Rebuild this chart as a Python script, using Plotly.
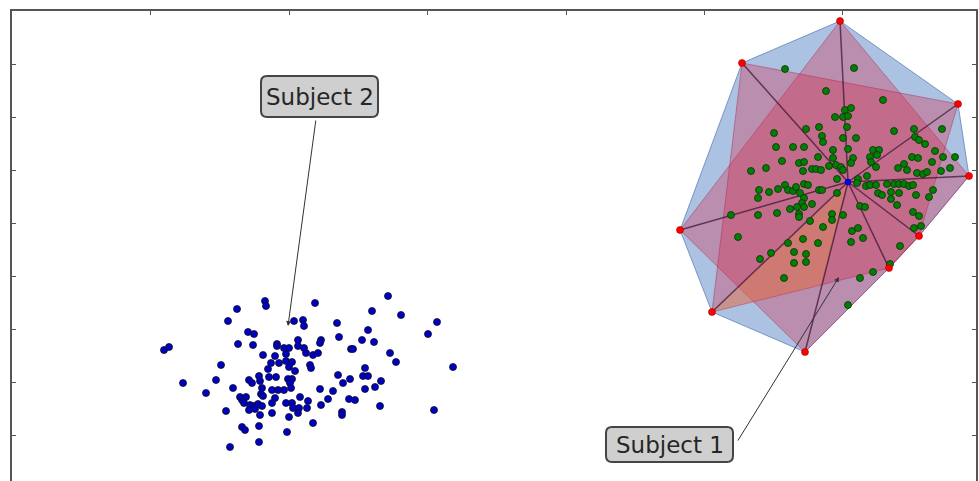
import plotly.graph_objects as go

# ---------------- data (axis units; no tick labels in the original) ----------------
# Subject 2 : scattered blue points
s2_x = [265, 266, 315, 388, 237, 372, 401, 228, 294, 303, 304, 337, 437, 428, 248, 254,
        368, 339, 362, 374, 238, 253, 277, 277, 298, 298, 284, 289, 321, 320, 304, 306,
        313, 318, 351, 353, 164, 169, 263, 275, 286, 390, 396, 221, 271, 268, 279, 286,
        292, 289, 310, 311, 295, 365, 453, 338, 363, 368, 350, 259, 269, 276, 216, 183,
        249, 252, 260, 288, 292, 290, 343, 381, 375, 365, 233, 206, 262, 272, 278, 284,
        291, 320, 333, 240, 246, 242, 244, 261, 263, 275, 272, 300, 286, 292, 293, 299,
        308, 328, 349, 355, 250, 254, 258, 255, 249, 262, 307, 321, 380, 226, 260, 272,
        289, 298, 342, 342, 434, 313, 242, 245, 259, 287, 259, 230]
s2_y = [301, 306, 303, 296, 309, 311, 315, 321, 321, 320, 326, 323, 322, 334, 332, 334,
        330, 337, 340, 342, 344, 345, 344, 346, 340, 346, 348, 348, 340, 343, 348, 353,
        355, 353, 349, 349, 350, 347, 355, 356, 354, 353, 362, 365, 363, 369, 363, 361,
        362, 367, 365, 368, 371, 368, 367, 375, 376, 376, 379, 376, 377, 377, 380, 383,
        380, 383, 381, 379, 379, 383, 383, 381, 387, 389, 388, 393, 388, 390, 390, 390,
        388, 389, 391, 397, 397, 400, 403, 394, 396, 398, 403, 397, 403, 403, 408, 408,
        401, 399, 399, 400, 405, 406, 404, 409, 410, 406, 408, 405, 406, 411, 415, 413,
        417, 413, 412, 415, 410, 423, 427, 430, 426, 432, 442, 447]

# Subject 1 : green points
s1_x = [785, 854, 826, 883, 845, 851, 835, 843, 848, 774, 806, 819, 847, 894, 914, 942,
        822, 823, 843, 856, 915, 919, 925, 776, 793, 804, 833, 848, 873, 879, 877, 935,
        955, 943, 818, 833, 853, 870, 871, 912, 918, 782, 799, 804, 851, 829, 836, 841,
        843, 876, 904, 932, 766, 751, 812, 816, 821, 803, 898, 907, 917, 923, 927, 941,
        950, 867, 837, 858, 857, 759, 758, 769, 778, 785, 788, 793, 796, 800, 804, 802,
        804, 799, 799, 797, 790, 804, 808, 819, 822, 837, 866, 870, 876, 878, 882, 887,
        894, 899, 891, 899, 904, 909, 913, 933, 929, 916, 891, 897, 812, 860, 865, 913,
        919, 921, 914, 731, 758, 777, 810, 832, 832, 843, 823, 738, 852, 858, 788, 803,
        818, 851, 863, 900, 771, 760, 794, 806, 806, 794, 890, 873, 860, 784, 848]
s1_y = [69, 68, 91, 100, 110, 108, 117, 117, 116, 133, 129, 127, 127, 131, 129, 129,
        136, 142, 138, 138, 137, 140, 144, 147, 147, 147, 150, 149, 150, 150, 155, 151,
        157, 157, 157, 158, 158, 157, 162, 157, 158, 161, 163, 162, 163, 166, 165, 167,
        170, 167, 164, 162, 168, 171, 169, 169, 170, 171, 168, 170, 173, 174, 172, 171,
        168, 176, 179, 179, 183, 190, 198, 192, 189, 185, 190, 191, 187, 193, 198, 203,
        207, 214, 217, 207, 209, 184, 185, 190, 190, 193, 186, 185, 185, 193, 195, 184,
        184, 184, 192, 193, 184, 186, 185, 190, 197, 195, 199, 205, 204, 206, 207, 212,
        216, 226, 228, 215, 215, 213, 221, 214, 220, 215, 227, 237, 231, 228, 243, 239,
        243, 242, 238, 246, 253, 259, 252, 254, 262, 263, 264, 272, 278, 278, 305]

# hull vertices of Subject 1 (red) and its centre (blue)
hull_x = [840, 958, 969, 919, 889, 805, 712, 680, 742]
hull_y = [21, 104, 176, 236, 268, 352, 312, 230, 63]
center_x = [848]
center_y = [182]

# polygons drawn over Subject 1, as indices into the hull vertices
poly_blue = [0, 1, 2, 3, 4, 5, 6, 7, 8]
poly_red1 = [0, 2, 3, 4, 5, 7]
poly_red2 = [8, 1, 3, 4, 6]

# axis ticks (unlabelled)
x_ticks = [150, 289, 427, 566, 704, 842]
y_ticks = [64, 117, 170, 223, 276, 329, 382, 435]

# ---------------- figure ----------------
fig = go.Figure()


def add_xy_poly(xs, ys, fillcolor, linecolor):
    xs = list(xs) + [xs[0]]
    ys = list(ys) + [ys[0]]
    fig.add_trace(go.Scatter(x=xs, y=ys, mode="lines", fill="toself",
                             fillcolor=fillcolor,
                             line=dict(color=linecolor, width=1),
                             hoverinfo="skip", showlegend=False))


def add_poly(idx, fillcolor, linecolor):
    add_xy_poly([hull_x[i] for i in idx], [hull_y[i] for i in idx], fillcolor, linecolor)


add_poly(poly_blue, "rgba(70,120,190,0.45)", "rgba(60,100,170,0.6)")
add_poly(poly_red1, "rgba(215,35,70,0.33)", "rgba(170,40,80,0.45)")
add_poly(poly_red2, "rgba(215,35,70,0.33)", "rgba(170,40,80,0.45)")

# orange wedge: centre, vertex F, and where the spoke to G meets edge F-I
cx, cy = center_x[0], center_y[0]
fx, fy = hull_x[6], hull_y[6]
ix, iy = hull_x[4], hull_y[4]
gx, gy = hull_x[5], hull_y[5]
dx, dy = gx - cx, gy - cy
ex, ey = ix - fx, iy - fy
den = dx * ey - dy * ex
t = ((fx - cx) * ey - (fy - cy) * ex) / den
px, py = cx + t * dx, cy + t * dy
add_xy_poly([cx, fx, px], [cy, fy, py], "rgba(240,165,40,0.25)", "rgba(0,0,0,0)")

# spokes from centre to every hull vertex
sx, sy = [], []
for vx, vy in zip(hull_x, hull_y):
    sx += [cx, vx, None]
    sy += [cy, vy, None]
fig.add_trace(go.Scatter(x=sx, y=sy, mode="lines",
                         line=dict(color="rgba(55,15,45,0.7)", width=1.5),
                         hoverinfo="skip", showlegend=False))

fig.add_trace(go.Scatter(x=s2_x, y=s2_y, mode="markers", showlegend=False,
                         marker=dict(size=7, color="#0000c0",
                                     line=dict(color="#10102a", width=0.8))))
fig.add_trace(go.Scatter(x=s1_x, y=s1_y, mode="markers", showlegend=False,
                         marker=dict(size=7, color="#008000",
                                     line=dict(color="#0f2a0f", width=0.8))))
fig.add_trace(go.Scatter(x=hull_x, y=hull_y, mode="markers", showlegend=False,
                         marker=dict(size=7, color="#ff0000",
                                     line=dict(color="#a00000", width=0.6))))
fig.add_trace(go.Scatter(x=center_x, y=center_y, mode="markers", showlegend=False,
                         marker=dict(size=6, color="#0000ff",
                                     line=dict(color="#000080", width=0.6))))


def rounded_box(x0, y0, x1, y1, r):
    return (f"M {x0+r},{y0} L {x1-r},{y0} Q {x1},{y0} {x1},{y0+r} "
            f"L {x1},{y1-r} Q {x1},{y1} {x1-r},{y1} L {x0+r},{y1} "
            f"Q {x0},{y1} {x0},{y1-r} L {x0},{y0+r} Q {x0},{y0} {x0+r},{y0} Z")


labels = [
    dict(text="Subject 2", box=(261, 76, 378, 117), tip=(288, 326), tail=(316, 119)),
    dict(text="Subject 1", box=(606, 427, 733, 462), tip=(839, 277), tail=(737, 442)),
]
for lab in labels:
    x0, y0, x1, y1 = lab["box"]
    fig.add_annotation(x=lab["tip"][0], y=lab["tip"][1],
                       ax=lab["tail"][0], ay=lab["tail"][1],
                       xref="x", yref="y", axref="x", ayref="y",
                       text="", showarrow=True, arrowhead=2, arrowsize=1,
                       arrowwidth=1, arrowcolor="#333333")
    fig.add_shape(type="path", xref="x", yref="y", layer="above",
                  path=rounded_box(x0, y0, x1, y1, 6),
                  fillcolor="#cfcfcf", line=dict(color="#454545", width=2))
    fig.add_annotation(x=(x0 + x1) / 2, y=(y0 + y1) / 2, xref="x", yref="y",
                       text=lab["text"], showarrow=False,
                       font=dict(family="DejaVu Sans", size=23, color="#262626"),
                       xanchor="center", yanchor="middle")

fig.update_layout(
    width=979, height=481,
    margin=dict(l=12, r=3, t=11, b=0, pad=0),
    paper_bgcolor="white", plot_bgcolor="white",
    showlegend=False,
    xaxis=dict(range=[12, 976], side="top", showline=True, mirror=False,
               linecolor="#555555", linewidth=2, ticks="inside", ticklen=4,
               tickcolor="#555555", tickvals=x_ticks, showticklabels=False,
               showgrid=False, zeroline=False),
    yaxis=dict(range=[481, 11], showline=True, mirror="ticks",
               linecolor="#555555", linewidth=2, ticks="inside", ticklen=4,
               tickcolor="#555555", tickvals=y_ticks, showticklabels=False,
               showgrid=False, zeroline=False),
)

fig.write_html("out.html")
